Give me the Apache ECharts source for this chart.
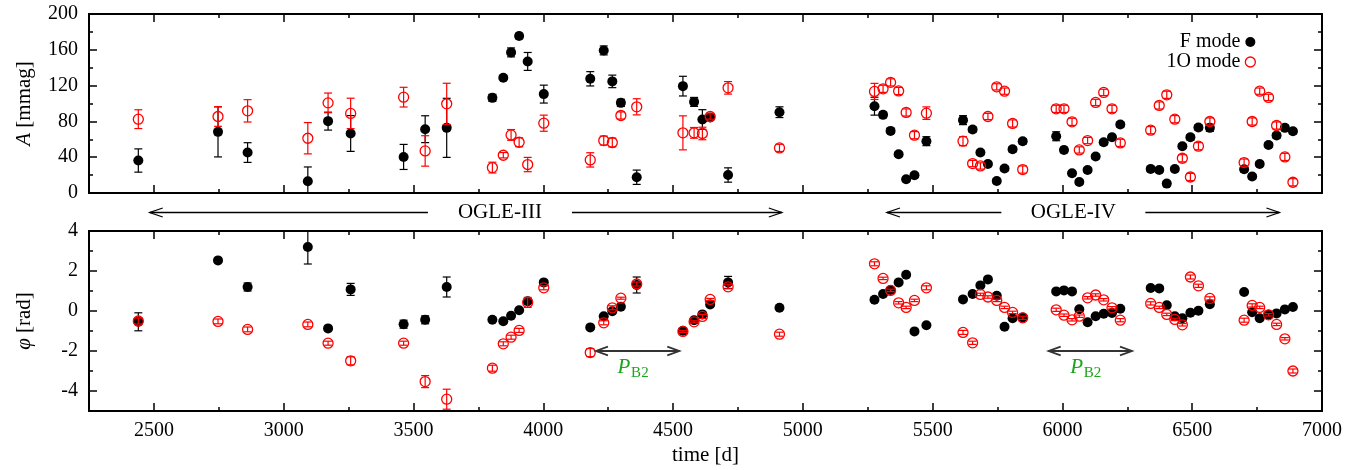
<!DOCTYPE html>
<html>
<head>
<meta charset="utf-8">
<title>Modulation of F and 1O mode amplitudes and phases</title>
<script src="https://cdn.jsdelivr.net/npm/echarts@6/dist/echarts.min.js"></script>
<style>
  html, body { margin: 0; padding: 0; background: #fff; }
  #chart { width: 1359px; height: 470px; }
</style>
</head>
<body>
<div id="chart"></div>
<script>
// ---- data: seasonal fits, time in days (HJD - 2450000) ----
const epochs = [
  2440, 2747, 2861, 3093, 3171, 3258, 3462, 3545, 3628, 3804, 3846, 3876, 3907,
  3940, 4002, 4181, 4233, 4266, 4299, 4360, 4538, 4581, 4613, 4643, 4712, 4910,
  5276, 5309, 5338, 5369, 5398, 5430, 5476,
  5617, 5654, 5684, 5713, 5747, 5777, 5808, 5847,
  5976, 6006, 6037, 6065, 6097, 6128, 6159, 6191, 6223,
  6340, 6373, 6402, 6433, 6462, 6493, 6524, 6568,
  6700, 6731, 6760, 6794, 6825, 6857, 6888
];

// F mode amplitude [mmag] and its error
const fAmp = [
  36.3, 68.3, 45.2, 13.1, 80.3, 66.5, 40.3, 71.3, 72.8, 106.3, 128.7, 157.1, 175.4,
  147.0, 110.5, 127.6, 159.3, 124.7, 100.7, 17.6, 119.4, 101.8, 82.1, 84.3, 20.1, 90.3,
  97.0, 87.3, 69.4, 43.3, 15.3, 19.8, 57.9,
  81.4, 70.9, 45.2, 32.5, 13.4, 27.3, 48.9, 57.8,
  63.4, 48.1, 22.0, 12.3, 25.7, 40.7, 56.7, 62.3, 76.5,
  26.9, 25.7, 10.5, 26.9, 52.3, 62.3, 73.2, 72.8,
  26.5, 18.4, 32.5, 53.7, 64.2, 72.8, 69.0
];
const fAmpErr = [
  13, 28, 11, 16, 10, 20, 14, 15, 33, 4, 2, 5, 3,
  10, 10, 8, 5, 7, 4, 8, 11, 5, 11, 3, 8, 6,
  10, 3, 2.5, 2.5, 2.5, 2.5, 5,
  5, 3, 2.5, 2.5, 2.5, 2.5, 3, 3,
  5, 3, 2.5, 2.5, 2.5, 2.5, 3, 3, 3,
  3, 2.5, 2.5, 2.5, 2.5, 3, 3, 4,
  3, 2.5, 2.5, 2.5, 3, 3, 3
];

// 1O mode amplitude [mmag] and its error
const oAmp = [
  82.5, 85.5, 91.8, 61.2, 100.7, 88.9, 107.1, 47.0, 99.6, 28.4, 42.2, 64.9, 56.7,
  31.8, 78.0, 37.0, 58.6, 56.4, 86.6, 96.3, 67.2, 67.2, 66.5, 85.5, 117.5, 50.4,
  113.5, 116.4, 123.6, 114.0, 90.0, 64.6, 89.2,
  57.9, 32.9, 30.2, 85.5, 118.6, 113.8, 77.7, 26.2,
  94.0, 94.0, 79.5, 48.1, 58.6, 101.2, 112.4, 94.0, 56.0,
  70.2, 97.8, 109.7, 82.5, 38.8, 17.9, 52.3, 79.9,
  34.0, 79.9, 113.8, 106.8, 75.4, 40.3, 12.0
];
const oAmpErr = [
  10.5, 11, 12.5, 17.5, 11, 17, 11, 17, 23, 6, 3, 6, 5,
  8, 9, 8, 5, 5, 4, 9, 19, 6, 7, 3, 7, 4,
  9, 4, 4, 4, 4, 4, 7,
  5, 3.5, 3.5, 3.5, 3.5, 3.5, 4, 4,
  4, 4, 4, 3.5, 3.5, 3.5, 3.5, 4, 4,
  4, 4, 4, 4, 4, 4, 4, 4,
  4, 4, 3.5, 3.5, 4, 4, 4
];

// F mode phase [rad] and its error
const fPhase = [
  -0.54, 2.53, 1.20, 3.20, -0.87, 1.08, -0.66, -0.44, 1.20, -0.44, -0.51, -0.24, 0.04,
  0.49, 1.43, -0.82, -0.26, -0.01, 0.21, 1.30, -0.99, -0.46, -0.17, 0.33, 1.43, 0.16,
  0.56, 0.85, 1.05, 1.43, 1.81, -1.02, -0.71,
  0.58, 0.85, 1.28, 1.58, 0.76, -0.79, -0.36, -0.32,
  0.98, 1.03, 0.98, 0.09, -0.56, -0.26, -0.14, -0.10, 0.11,
  1.15, 1.13, 0.29, -0.26, -0.36, -0.09, 0.01, 0.34,
  0.95, -0.06, -0.36, -0.19, -0.12, 0.08, 0.20
];
const fPhaseErr = [
  0.45, 0.10, 0.20, 0.85, 0.10, 0.30, 0.20, 0.20, 0.50, 0.05, 0.05, 0.05, 0.05,
  0.10, 0.10, 0.05, 0.05, 0.05, 0.05, 0.40, 0.05, 0.05, 0.10, 0.05, 0.30, 0.05,
  0.08, 0.05, 0.05, 0.05, 0.05, 0.05, 0.06,
  0.06, 0.05, 0.05, 0.05, 0.05, 0.05, 0.05, 0.06,
  0.06, 0.05, 0.05, 0.05, 0.05, 0.05, 0.05, 0.05, 0.05,
  0.05, 0.05, 0.05, 0.05, 0.05, 0.05, 0.05, 0.06,
  0.06, 0.05, 0.05, 0.05, 0.05, 0.05, 0.05
];

// 1O mode phase [rad] and its error
const oPhase = [
  -0.50, -0.52, -0.92, -0.67, -1.61, -2.49, -1.61, -3.53, -4.41, -2.86, -1.64, -1.31, -0.97,
  0.43, 1.16, -2.08, -0.59, 0.16, 0.64, 1.35, -1.02, -0.54, -0.27, 0.58, 1.21, -1.16,
  2.36, 1.63, 1.03, 0.41, 0.18, 0.53, 1.16,
  -1.07, -1.59, 0.83, 0.70, 0.53, 0.18, -0.07, -0.34,
  0.06, -0.21, -0.44, -0.26, 0.66, 0.80, 0.56, 0.16, -0.46,
  0.38, 0.18, -0.17, -0.42, -0.69, 1.70, 1.26, 0.63,
  -0.46, 0.28, 0.18, -0.19, -0.67, -1.39, -3.00
];
const oPhaseErr = [
  0.15, 0.12, 0.12, 0.12, 0.10, 0.20, 0.10, 0.30, 0.50, 0.15, 0.10, 0.10, 0.10,
  0.25, 0.10, 0.20, 0.10, 0.10, 0.05, 0.10, 0.05, 0.05, 0.10, 0.05, 0.10, 0.10,
  0.10, 0.06, 0.06, 0.06, 0.06, 0.06, 0.10,
  0.10, 0.08, 0.06, 0.06, 0.06, 0.06, 0.06, 0.08,
  0.08, 0.06, 0.06, 0.06, 0.06, 0.06, 0.06, 0.06, 0.08,
  0.08, 0.06, 0.06, 0.06, 0.06, 0.10, 0.08, 0.08,
  0.10, 0.08, 0.06, 0.06, 0.06, 0.06, 0.10
];

// survey coverage [d] and where each survey name sits
const surveyNames = ['OGLE-III', 'OGLE-IV'];
const surveyStart = [2484, 5324];
const surveyEnd = [4919, 6836];
const surveyLabelAt = [3833, 6042];

// modulation period P_B2 marked twice in the phase panel [d]
const periodStart = [4203, 5947];
const periodEnd = [4524, 6268];

// axes
const timeMin = 2250, timeMax = 7000;
const timeTicks = [2500, 3000, 3500, 4000, 4500, 5000, 5500, 6000, 6500, 7000];
const ampMin = 0, ampMax = 200, ampStep = 40;
const phaseMin = -5, phaseMax = 4;
const phaseTicks = [-4, -2, 0, 2, 4];

// ---- drawing ----
const FONT = '"Liberation Serif", "DejaVu Serif", "Times New Roman", serif';
const INK = '#000';
const RED = '#ff0000';
const GREEN = '#1ca51c';

const tickLine = { color: INK, width: 1.5 };
const plainNum = v => String(v);
// every axis draws its own edge of the frame
const frameLine = { show: true, onZero: false, lineStyle: { color: INK, width: 2 } };

function timeAxes(gridIndex, withLabels) {
  const base = {
    type: 'value', gridIndex, min: timeMin, max: timeMax, interval: 250,
    splitLine: { show: false }, axisLine: frameLine
  };
  const minor = pos => Object.assign({}, base, {
    position: pos,
    axisTick: { show: true, inside: true, length: 4, lineStyle: tickLine },
    axisLabel: { show: false }
  });
  const major = pos => Object.assign({}, base, {
    position: pos,
    axisTick: { show: true, inside: true, length: 8, customValues: timeTicks, lineStyle: tickLine },
    axisLabel: (withLabels && pos === 'bottom') ? {
      customValues: timeTicks, formatter: plainNum, margin: 10,
      color: INK, fontFamily: FONT, fontSize: 20
    } : { show: false },
    name: (withLabels && pos === 'bottom') ? 'time [d]' : '',
    nameLocation: 'middle', nameGap: 34,
    nameTextStyle: { color: INK, fontFamily: FONT, fontSize: 21 }
  });
  return [minor('bottom'), major('bottom'), minor('top'), major('top')];
}

const axisNameStyle = {
  color: INK, fontFamily: FONT, fontSize: 21,
  rich: { it: { fontStyle: 'italic', fontFamily: FONT, fontSize: 21, color: INK } }
};
const yLabel = { formatter: plainNum, margin: 11, color: INK, fontFamily: FONT, fontSize: 20 };

const ampAxis = pos => ({
  type: 'value', gridIndex: 0, position: pos, min: ampMin, max: ampMax, interval: ampStep,
  splitLine: { show: false }, axisLine: frameLine,
  axisTick: { show: true, inside: true, length: 8, lineStyle: tickLine },
  minorTick: { show: true, splitNumber: 2, length: 4, lineStyle: tickLine },
  axisLabel: pos === 'left' ? yLabel : { show: false },
  name: pos === 'left' ? '{it|A} [mmag]' : '',
  nameLocation: 'middle', nameGap: 54, nameTextStyle: axisNameStyle
});
const phaseAxis = (pos, major) => ({
  type: 'value', gridIndex: 1, position: pos, min: phaseMin, max: phaseMax, interval: 1,
  splitLine: { show: false }, axisLine: frameLine,
  axisTick: major
    ? { show: true, inside: true, length: 8, customValues: phaseTicks, lineStyle: tickLine }
    : { show: true, inside: true, length: 4, lineStyle: tickLine },
  axisLabel: (pos === 'left' && !major)
    ? Object.assign({ customValues: phaseTicks }, yLabel) : { show: false },
  name: (pos === 'left' && !major) ? '{it|φ} [rad]' : '',
  nameLocation: 'middle', nameGap: 54, nameTextStyle: axisNameStyle
});

function errorBars(xi, yi, vals, errs, color, z) {
  return {
    type: 'custom', xAxisIndex: xi, yAxisIndex: yi, z, clip: true, silent: true,
    data: epochs.map((d, i) => [d, vals[i], errs[i]]),
    renderItem(params, api) {
      const x = api.value(0), y = api.value(1), e = api.value(2);
      const hi = api.coord([x, y + e]);
      const lo = api.coord([x, y - e]);
      const w = 4;
      const style = { stroke: color, lineWidth: 1.2 };
      return {
        type: 'group',
        children: [
          { type: 'line', shape: { x1: hi[0], y1: hi[1], x2: lo[0], y2: lo[1] }, style },
          { type: 'line', shape: { x1: hi[0] - w, y1: hi[1], x2: hi[0] + w, y2: hi[1] }, style },
          { type: 'line', shape: { x1: lo[0] - w, y1: lo[1], x2: lo[0] + w, y2: lo[1] }, style }
        ]
      };
    }
  };
}

const fStyle = { color: INK, opacity: 1 };
const oStyle = { color: 'rgba(255,255,255,0)', borderColor: RED, borderWidth: 1.3, opacity: 1 };

function points(name, xi, yi, vals, style, z) {
  return {
    type: 'scatter', name, xAxisIndex: xi, yAxisIndex: yi, z,
    symbol: 'circle', symbolSize: 10, itemStyle: style,
    data: epochs.map((d, i) => [d, vals[i]])
  };
}

// open chevron arrow heads
function arrowHead(tx, ty, dir, len, half, style) {
  return {
    type: 'polyline',
    shape: { points: [[tx + dir * len, ty - half], [tx, ty], [tx + dir * len, ty + half]] },
    style: Object.assign({ fill: null }, style)
  };
}

const surveySeries = {
  type: 'custom', xAxisIndex: 0, yAxisIndex: 0, clip: false, silent: true, z: 10,
  data: surveyNames.map((n, i) => [surveyStart[i], surveyEnd[i], surveyLabelAt[i]]),
  encode: { x: [0, 1, 2] },
  renderItem(params, api) {
    const cs = params.coordSys;
    const y = cs.y + cs.height + 19.5;
    const x1 = api.coord([api.value(0), 0])[0];
    const x2 = api.coord([api.value(1), 0])[0];
    const xc = api.coord([api.value(2), 0])[0];
    const gap = 72;
    const style = { stroke: INK, lineWidth: 1.3 };
    return {
      type: 'group',
      children: [
        { type: 'line', shape: { x1, y1: y, x2: xc - gap, y2: y }, style },
        { type: 'line', shape: { x1: xc + gap, y1: y, x2, y2: y }, style },
        arrowHead(x1, y, 1, 13, 4.5, style),
        arrowHead(x2, y, -1, 13, 4.5, style),
        {
          type: 'text', x: xc, y: y,
          style: {
            text: surveyNames[params.dataIndex], fill: INK,
            fontFamily: FONT, fontSize: 21, align: 'center', verticalAlign: 'middle'
          }
        }
      ]
    };
  }
};

const periodLevel = -2.0;
const periodSeries = {
  type: 'custom', xAxisIndex: 4, yAxisIndex: 2, clip: false, silent: true, z: 10,
  data: periodStart.map((s, i) => [s, periodEnd[i]]),
  encode: { x: [0, 1] },
  renderItem(params, api) {
    const p1 = api.coord([api.value(0), periodLevel]);
    const p2 = api.coord([api.value(1), periodLevel]);
    const y = p1[1];
    const style = { stroke: '#333', lineWidth: 1.8 };
    const cx = (p1[0] + p2[0]) / 2 - 5;
    const ty = y + 16.5;
    return {
      type: 'group',
      children: [
        { type: 'line', shape: { x1: p1[0], y1: y, x2: p2[0], y2: y }, style },
        arrowHead(p1[0], y, 1, 12, 4.3, style),
        arrowHead(p2[0], y, -1, 12, 4.3, style),
        {
          type: 'text', x: cx - 15, y: ty,
          style: { text: 'P', fill: GREEN, fontFamily: FONT, fontSize: 21,
                   fontStyle: 'italic', align: 'left', verticalAlign: 'middle' }
        },
        {
          type: 'text', x: cx - 1.5, y: ty + 5.5,
          style: { text: 'B2', fill: GREEN, fontFamily: FONT, fontSize: 15,
                   align: 'left', verticalAlign: 'middle' }
        }
      ]
    };
  }
};

const option = {
  animation: false,
  backgroundColor: '#fff',
  textStyle: { fontFamily: FONT },
  grid: [
    { left: 89, right: 37, top: 14, height: 179, show: false },
    { left: 89, right: 37, top: 231, height: 180, show: false }
  ],
  legend: {
    orient: 'vertical', right: 98, top: 27, align: 'right',
    itemWidth: 10, itemHeight: 10, itemGap: 0,
    textStyle: { color: INK, fontFamily: FONT, fontSize: 20, lineHeight: 20 },
    data: [
      { name: 'F mode', icon: 'circle', itemStyle: { color: INK, opacity: 1 } },
      { name: '1O mode', icon: 'circle', itemStyle: { color: 'rgba(255,255,255,0)', borderColor: RED, borderWidth: 1.3, opacity: 1 } }
    ],
    selectedMode: false
  },
  xAxis: [].concat(timeAxes(0, false), timeAxes(1, true)),
  yAxis: [
    ampAxis('left'), ampAxis('right'),
    phaseAxis('left', false), phaseAxis('left', true),
    phaseAxis('right', false), phaseAxis('right', true)
  ],
  series: [
    errorBars(0, 0, fAmp, fAmpErr, INK, 2),
    points('F mode', 0, 0, fAmp, fStyle, 3),
    errorBars(0, 0, oAmp, oAmpErr, RED, 4),
    points('1O mode', 0, 0, oAmp, oStyle, 5),
    errorBars(4, 2, fPhase, fPhaseErr, INK, 2),
    points('F mode', 4, 2, fPhase, fStyle, 3),
    errorBars(4, 2, oPhase, oPhaseErr, RED, 4),
    points('1O mode', 4, 2, oPhase, oStyle, 5),
    surveySeries,
    periodSeries
  ]
};

const chart = echarts.init(document.getElementById('chart'), null, { renderer: 'canvas' });
chart.setOption(option);
</script>
</body>
</html>
